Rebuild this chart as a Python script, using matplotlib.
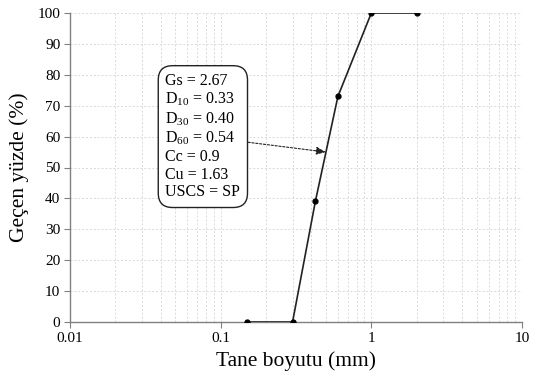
import matplotlib
matplotlib.use("Agg")
import matplotlib.pyplot as plt
from matplotlib.ticker import LogLocator, NullFormatter, FixedLocator

plt.rcParams["font.family"] = "Liberation Serif"
plt.rcParams["mathtext.fontset"] = "custom"
plt.rcParams["mathtext.rm"] = "Liberation Serif"
plt.rcParams["mathtext.it"] = "Liberation Serif:italic"

# sieve analysis results
grain_size = [0.15, 0.3, 0.425, 0.6, 1.0, 2.0]
passing = [0, 0, 39, 73, 100, 100]

x_ticks = [0.01, 0.1, 1, 10]
x_tick_labels = ["0.01", "0.1", "1", "10"]
y_ticks = list(range(0, 101, 10))

summary = [
    "Gs = 2.67",
    r"D$_{10}$ = 0.33",
    r"D$_{30}$ = 0.40",
    r"D$_{60}$ = 0.54",
    "Cc = 0.9",
    "Cu = 1.63",
    "USCS = SP",
]
d60_point = (0.5, 55)

fig = plt.figure(figsize=(5.35, 3.76), dpi=100)
ax = fig.add_axes([70 / 535, 1 - 322 / 376, 452 / 535, 309 / 376])

ax.plot(grain_size, passing, color="#222222", lw=1.2, marker="o", ms=3.5,
        mfc="black", mec="black", zorder=3)

ax.set_xscale("log")
ax.set_xlim(0.01, 10)
ax.set_ylim(0, 100)
ax.xaxis.set_major_locator(FixedLocator(x_ticks))
ax.set_xticklabels(x_tick_labels)
ax.xaxis.set_minor_locator(LogLocator(base=10, subs=range(2, 10)))
ax.xaxis.set_minor_formatter(NullFormatter())
ax.set_yticks(y_ticks)

ax.grid(which="major", color="#d9d9d9", ls=(0, (2, 2)), lw=0.7)
ax.grid(which="minor", axis="x", color="#d9d9d9", ls=(0, (2, 2)), lw=0.7)
ax.tick_params(which="minor", length=0)
ax.tick_params(which="major", direction="out", length=4, color="#808080",
               labelsize=11, pad=3)

for side in ("top", "right"):
    ax.spines[side].set_visible(False)
for side in ("left", "bottom"):
    ax.spines[side].set_color("#808080")
    ax.spines[side].set_linewidth(1.0)

ax.set_xlabel("Tane boyutu (mm)", fontsize=15.5, labelpad=5)
ax.set_ylabel("Geçen yüzde (%)", fontsize=15.5, labelpad=6)

ax.annotate(
    "\n".join(summary),
    xy=d60_point, xycoords="data",
    xytext=(0.043, 60), textcoords="data",
    fontsize=11.5, va="center", ha="left", linespacing=1.15,
    bbox=dict(boxstyle="round,pad=0.45,rounding_size=0.9", fc="white",
              ec="#222222", lw=1.0),
    arrowprops=dict(arrowstyle="-|>,head_length=0.5,head_width=0.2",
                    color="#222222", lw=0.8, ls=(0, (2, 1.5)),
                    shrinkA=0, shrinkB=0),
    zorder=4,
)

fig.savefig("out.png", dpi=100)
